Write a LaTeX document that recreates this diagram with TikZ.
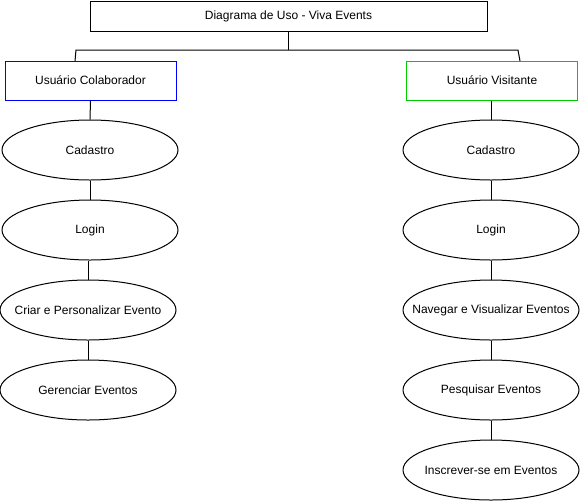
\documentclass[tikz,border=0pt]{standalone}
\usepackage{fontspec}
\setmainfont{Liberation Sans}
\usetikzlibrary{shapes.geometric}
\definecolor{cblue}{RGB}{0,0,255}
\definecolor{cgreen}{RGB}{0,204,0}
\begin{document}
\begin{tikzpicture}[x=0.75pt,y=-0.75pt,line width=0.75pt,
  every node/.style={font=\fontsize{9pt}{11pt}\selectfont, inner sep=0pt},
  titlebox/.style={draw, rectangle, minimum width=297.75pt, minimum height=22.5pt},
  actor/.style={draw, rectangle, minimum width=128.25pt, minimum height=29.25pt},
  uc/.style={draw, ellipse, minimum width=132pt, minimum height=45pt, inner xsep=-60pt}]
\useasboundingbox (0,0) rectangle (581,501);
\node[titlebox] (top) at (288.5,16) {Diagrama de Uso - Viva Events};
\node[actor, draw=cblue] (colab) at (90.5,80.5) {Usuário Colaborador};
\node[actor, draw=cgreen] (visit) at (492,80.5) {Usuário Visitante};
% left column
\node[uc] (lcad) at (90,150) {Cadastro};
\node[uc] (llog) at (90,230) {Login};
\node[uc] (lcri) at (88,310) {Criar e Personalizar Evento};
\node[uc] (lger) at (88,390) {Gerenciar Eventos};
% right column
\node[uc] (rcad) at (491,150) {Cadastro};
\node[uc] (rlog) at (491,230) {Login};
\node[uc] (rnav) at (491,310) {Navegar e Visualizar Eventos};
\node[uc] (rpes) at (491,390) {Pesquisar Eventos};
\node[uc] (rins) at (491,470) {Inscrever-se em Eventos};
% tree connectors
\coordinate (jm) at (288.5,50);
\coordinate (jl) at (76,50);
\coordinate (jr) at (518,50);
\coordinate (cl) at (75,61);
\coordinate (cr) at (520,61);
\draw (top.south) -- (jm);
\draw (cl) -- (jl) -- (jr) -- (cr);
\draw (colab.south) -- (lcad.north);
\draw (lcad) -- (llog);
\draw (llog.south -| lcri) -- (lcri.north);
\draw (lcri) -- (lger);
\draw (visit.south -| rcad) -- (rcad.north);
\draw (rcad) -- (rlog);
\draw (rlog) -- (rnav);
\draw (rnav) -- (rpes);
\draw (rpes) -- (rins);
\end{tikzpicture}
\end{document}
